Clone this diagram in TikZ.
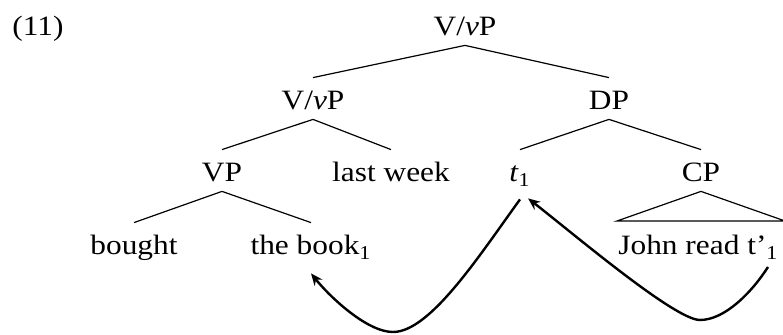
\documentclass[tikz,border=0pt]{standalone}
\usepackage{fontspec}
\setmainfont[FakeStretch=1.12]{Liberation Serif}
\usetikzlibrary{arrows.meta}
\tikzset{
   cat/.style={anchor=base, inner sep=0pt, text height=16pt, text depth=4.5pt, font=\fontsize{14}{16}\selectfont},
   branch/.style={line width=0.6pt},
   move/.style={line width=1.2pt, -{Stealth[length=6pt, width=5pt]}},
}
\begin{document}
\begin{tikzpicture}[x=0.5pt, y=-0.5pt]
      \clip (0,0) rectangle (783,335);
      \node[cat, anchor=base west] (ex) at (12,36) {(11)};

      \begin{scope}[name prefix = top-]
         \node[cat] (vP) at (465,36) {V/\textit{v}P};
      \end{scope}

      \begin{scope}[name prefix = mid-]
         \node[cat] (vP) at (313,110) {V/\textit{v}P};
         \node[cat] (DP) at (609,110) {DP};
      \end{scope}

      \begin{scope}[name prefix = low-]
         \node[cat] (VP) at (222,182) {VP};
         \node[cat] (week) at (391,182) {last week};
         \node[cat] (t) at (520,182) {\textit{t}\textsubscript{1}};
         \node[cat] (CP) at (701,182) {CP};
      \end{scope}

      \begin{scope}[name prefix = leaf-]
         \node[cat] (bought) at (134,255) {bought};
         \node[cat] (book) at (311,255) {the book\textsubscript{1}};
         \node[cat, anchor=base west] (john) at (618,255) {John read t’\textsubscript{1}};
         \coordinate (tri-l) at (617,221);
         \coordinate (tri-r) at (785,221);
         \coordinate (gap) at (768,267);
      \end{scope}

      \begin{scope}
         \draw[branch] (top-vP.south) -- (mid-vP.north);
         \draw[branch] (top-vP.south) -- (mid-DP.north);
         \draw[branch] (mid-vP.south) -- (low-VP.north);
         \draw[branch] (mid-vP.south) -- (low-week.north);
         \draw[branch] (mid-DP.south) -- (low-t.north);
         \draw[branch] (mid-DP.south) -- (low-CP.north);
         \draw[branch] (low-VP.south) -- (leaf-bought.north);
         \draw[branch] (low-VP.south) -- (leaf-book.north);
         \draw[branch] (low-CP.south) -- (leaf-tri-l) -- (leaf-tri-r) -- cycle;
      \end{scope}

      \draw[move] ([yshift=-4pt]low-t.south) .. controls (479,256) and (430,332) .. (393,332)
         .. controls (367,332) and (330,297) .. ([yshift=-4.5pt]leaf-book.south);
      \draw[move] (leaf-gap) .. controls (752,292) and (725,320) .. (700,320)
         .. controls (675,320) and (575,235) .. ([xshift=-1.5pt, yshift=-3.5pt]low-t.south east);
\end{tikzpicture}
\end{document}
